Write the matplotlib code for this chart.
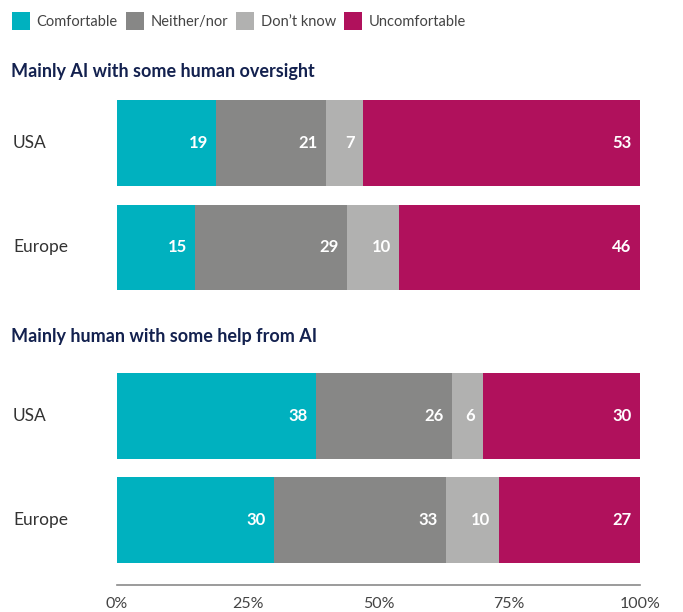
import matplotlib
matplotlib.use("Agg")
import matplotlib.pyplot as plt
import matplotlib.transforms as mtransforms
from matplotlib.patches import Patch

plt.rcParams["font.family"] = ["Lato", "DejaVu Sans"]

CATEGORIES = ["Comfortable", "Neither/nor", "Don\u2019t know", "Uncomfortable"]
COLORS = ["#00B1BF", "#878786", "#B1B1B0", "#B0115C"]

GROUPS = ["Mainly AI with some human oversight", "Mainly human with some help from AI"]
REGIONS = ["USA", "Europe"]

# shares per region, in CATEGORIES order
AI_OVERSIGHT = {"USA": [19, 21, 7, 53], "Europe": [15, 29, 10, 46]}
HUMAN_HELP = {"USA": [38, 26, 6, 30], "Europe": [30, 33, 10, 27]}

TICKS = [0, 25, 50, 75, 100]
TICK_LABELS = ["0%", "25%", "50%", "75%", "100%"]

fig = plt.figure(figsize=(6.83, 6.12), dpi=100)
ax = fig.add_axes([117 / 683, 27 / 612, 523 / 683, 495 / 612])

# row centres: two rows per group, a wider gap between groups
row_pos = [0, 1, 2.62, 3.62]
bar_h = 0.82
data = [AI_OVERSIGHT, HUMAN_HELP]

i = 0
for grp in data:
    for reg in REGIONS:
        vals = grp[reg]
        left = 0
        for v, c in zip(vals, COLORS):
            ax.barh(row_pos[i], v, left=left, height=bar_h, color=c, edgecolor="none")
            ax.annotate(str(v), xy=(left + v, row_pos[i]), xytext=(-6, 0),
                        textcoords="offset points", ha="right", va="center",
                        color="white", fontsize=12, fontweight="bold")
            left += v
        i += 1

ax.set_xlim(0, 100)
ax.set_ylim(4.245, -0.51)
ax.set_yticks([])
ax.set_xticks(TICKS)
ax.set_xticklabels(TICK_LABELS, fontsize=11.5, color="#444444")
ax.tick_params(axis="x", length=0, pad=9)
for s in ["top", "right", "left"]:
    ax.spines[s].set_visible(False)
ax.spines["bottom"].set_color("#8a8a8a")
ax.spines["bottom"].set_linewidth(1.2)

# region labels at the left edge of the figure
trans = mtransforms.blended_transform_factory(fig.transFigure, ax.transData)
for j, y in enumerate(row_pos):
    ax.text(13 / 683, y, REGIONS[j % 2], transform=trans, ha="left", va="center",
            fontsize=12.5, color="#333333")

# group headings
for k, ypx in enumerate([72, 336]):
    fig.text(11 / 683, 1 - ypx / 612, GROUPS[k], ha="left", va="center",
             fontsize=13, fontweight="bold", color="#13214F")

handles = [Patch(facecolor=c, edgecolor="none") for c in COLORS]
fig.legend(handles, CATEGORIES, loc="upper left", bbox_to_anchor=(0.0, 1.0),
           ncol=4, frameon=False, fontsize=10.5, handlelength=1.25, handleheight=1.6,
           handletextpad=0.45, columnspacing=0.55, borderaxespad=0.4,
           labelcolor="#444444")

fig.savefig("out.png", dpi=100)
